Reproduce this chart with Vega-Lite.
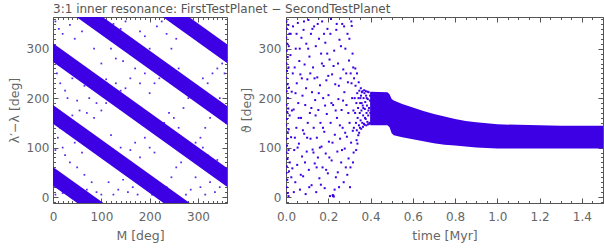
{
  "$schema": "https://vega.github.io/schema/vega-lite/v6.json",
  "autosize": {"type": "none"},
  "padding": {"left": 53, "top": 17, "right": 551, "bottom": 235},
  "title": {"text": "3:1 inner resonance: FirstTestPlanet − SecondTestPlanet", "anchor": "start", "frame": "group", "font": "DejaVu Sans", "fontSize": 12, "fontWeight": "normal", "color": "#555", "offset": 4, "dy": 4},
  "config": {
    "view": {"stroke": "#555", "strokeWidth": 1},
    "axis": {"grid": false, "domain": false, "labelFont": "DejaVu Sans", "labelFontSize": 12, "labelColor": "#666", "titleFont": "DejaVu Sans", "titleFontSize": 12.5, "titleFontWeight": "normal", "titleColor": "#666", "tickColor": "#555", "tickWidth": 1, "labelFlush": false, "labelOverlap": false}
  },
  "spacing": 59,
  "bounds": "flush",
  "datasets": {
    "bandsL": [
      {"band": 0, "M": 0, "lo": 23, "hi": 61}, {"band": 0, "M": 360, "lo": -229, "hi": -191},
      {"band": 1, "M": 0, "lo": 148, "hi": 186}, {"band": 1, "M": 360, "lo": -104, "hi": -66},
      {"band": 2, "M": 0, "lo": 273, "hi": 311}, {"band": 2, "M": 360, "lo": 21, "hi": 59},
      {"band": 3, "M": 0, "lo": 398, "hi": 436}, {"band": 3, "M": 360, "lo": 146, "hi": 184},
      {"band": 4, "M": 0, "lo": 523, "hi": 561}, {"band": 4, "M": 360, "lo": 271, "hi": 309}
    ],
    "ptsL": [
      {"M":5,"dl":355},{"M":12,"dl":340},{"M":20,"dl":330},{"M":35,"dl":348},{"M":45,"dl":320},{"M":60,"dl":335},{"M":70,"dl":352},{"M":8,"dl":250},{"M":15,"dl":230},{"M":25,"dl":215},{"M":40,"dl":240},{"M":55,"dl":260},{"M":65,"dl":225},{"M":80,"dl":245},{"M":95,"dl":210},{"M":110,"dl":238},{"M":30,"dl":200},{"M":50,"dl":195},{"M":75,"dl":200},{"M":90,"dl":190},{"M":100,"dl":270},{"M":120,"dl":300},{"M":130,"dl":320},{"M":140,"dl":340},{"M":150,"dl":355},{"M":160,"dl":290},{"M":170,"dl":310},{"M":180,"dl":335},{"M":190,"dl":325},{"M":200,"dl":300},{"M":215,"dl":345},{"M":225,"dl":355},{"M":235,"dl":330},{"M":110,"dl":330},{"M":95,"dl":345},{"M":85,"dl":300},{"M":125,"dl":350},{"M":10,"dl":120},{"M":20,"dl":100},{"M":30,"dl":130},{"M":45,"dl":110},{"M":60,"dl":90},{"M":75,"dl":130},{"M":90,"dl":115},{"M":100,"dl":100},{"M":110,"dl":80},{"M":120,"dl":125},{"M":130,"dl":70},{"M":140,"dl":100},{"M":150,"dl":60},{"M":160,"dl":95},{"M":170,"dl":110},{"M":180,"dl":80},{"M":190,"dl":120},{"M":200,"dl":100},{"M":210,"dl":90},{"M":220,"dl":130},{"M":230,"dl":150},{"M":240,"dl":170},{"M":250,"dl":160},{"M":260,"dl":140},{"M":270,"dl":180},{"M":280,"dl":200},{"M":290,"dl":220},{"M":300,"dl":210},{"M":310,"dl":240},{"M":320,"dl":230},{"M":330,"dl":250},{"M":340,"dl":260},{"M":350,"dl":270},{"M":355,"dl":250},{"M":345,"dl":200},{"M":335,"dl":180},{"M":325,"dl":160},{"M":315,"dl":140},{"M":305,"dl":120},{"M":295,"dl":110},{"M":285,"dl":100},{"M":275,"dl":90},{"M":265,"dl":70},{"M":255,"dl":60},{"M":245,"dl":40},{"M":235,"dl":20},{"M":225,"dl":10},{"M":215,"dl":30},{"M":205,"dl":5},{"M":195,"dl":15},{"M":185,"dl":25},{"M":175,"dl":5},{"M":165,"dl":20},{"M":155,"dl":10},{"M":145,"dl":35},{"M":135,"dl":15},{"M":125,"dl":5},{"M":115,"dl":30},{"M":300,"dl":90},{"M":310,"dl":100},{"M":320,"dl":85},{"M":330,"dl":70},{"M":340,"dl":75},{"M":350,"dl":60},{"M":355,"dl":40},{"M":345,"dl":20},{"M":335,"dl":10},{"M":325,"dl":30},{"M":315,"dl":5},{"M":305,"dl":20},{"M":295,"dl":40},{"M":285,"dl":15},{"M":275,"dl":5},{"M":5,"dl":95},{"M":15,"dl":140},{"M":25,"dl":85},{"M":35,"dl":70},{"M":50,"dl":60},{"M":65,"dl":45},{"M":80,"dl":30},{"M":90,"dl":10},{"M":100,"dl":5},{"M":70,"dl":15},{"M":55,"dl":5},{"M":40,"dl":0},{"M":5,"dl":5},{"M":10,"dl":20},{"M":20,"dl":8},{"M":255,"dl":320},{"M":265,"dl":345},{"M":275,"dl":360},{"M":285,"dl":355},{"M":245,"dl":300},{"M":260,"dl":260},{"M":250,"dl":230},{"M":240,"dl":250},{"M":230,"dl":260},{"M":220,"dl":240},{"M":210,"dl":230},{"M":200,"dl":210},{"M":190,"dl":250},{"M":180,"dl":230},{"M":170,"dl":260},{"M":160,"dl":240},{"M":150,"dl":220},{"M":140,"dl":215},{"M":130,"dl":230},{"M":120,"dl":210},{"M":110,"dl":190},{"M":100,"dl":175},{"M":85,"dl":160},{"M":70,"dl":170},{"M":55,"dl":175},{"M":40,"dl":165},{"M":25,"dl":160},{"M":10,"dl":160},{"M":130,"dl":280},{"M":145,"dl":275},{"M":200,"dl":275},{"M":210,"dl":260}
    ],
    "envR": [
      {"t":0.398,"lo":150,"hi":212},{"t":0.40,"lo":145,"hi":213},{"t":0.48,"lo":145,"hi":212},{"t":0.49,"lo":141,"hi":208},{"t":0.50,"lo":129,"hi":198},{"t":0.51,"lo":125,"hi":195},{"t":0.55,"lo":121,"hi":188},{"t":0.6,"lo":117,"hi":181},{"t":0.65,"lo":113,"hi":174},{"t":0.7,"lo":109,"hi":168},{"t":0.75,"lo":106,"hi":163},{"t":0.8,"lo":104,"hi":158},{"t":0.85,"lo":102,"hi":154},{"t":0.9,"lo":100,"hi":151},{"t":0.95,"lo":99,"hi":149},{"t":1.0,"lo":98,"hi":147},{"t":1.1,"lo":98,"hi":146},{"t":1.2,"lo":98,"hi":145},{"t":1.3,"lo":98,"hi":144},{"t":1.4,"lo":98,"hi":144},{"t":1.5,"lo":98,"hi":144}
    ],
    "ptsR": [
      {"t":0.002,"th":355},{"t":0.004,"th":340},{"t":0.001,"th":322},{"t":0.006,"th":310},{"t":0.003,"th":296},{"t":0.008,"th":283},{"t":0.002,"th":270},{"t":0.005,"th":255},{"t":0.001,"th":241},{"t":0.007,"th":228},{"t":0.003,"th":214},{"t":0.009,"th":200},{"t":0.002,"th":186},{"t":0.006,"th":172},{"t":0.004,"th":158},{"t":0.001,"th":145},{"t":0.008,"th":131},{"t":0.003,"th":118},{"t":0.005,"th":104},{"t":0.002,"th":90},{"t":0.007,"th":77},{"t":0.004,"th":62},{"t":0.001,"th":48},{"t":0.006,"th":35},{"t":0.003,"th":20},{"t":0.008,"th":8},{"t":0.012,"th":2},{"t":0.011,"th":348},{"t":0.013,"th":305},{"t":0.012,"th":262},{"t":0.014,"th":221},{"t":0.011,"th":179},{"t":0.013,"th":137},{"t":0.012,"th":95},{"t":0.014,"th":52},{"t":0.016,"th":330},{"t":0.017,"th":165},{"t":0.018,"th":70},
      {"t":0.021,"th":287},{"t":0.024,"th":121},{"t":0.027,"th":213},{"t":0.03,"th":58},{"t":0.033,"th":345},{"t":0.036,"th":177},{"t":0.039,"th":95},{"t":0.041,"th":262},{"t":0.044,"th":30},{"t":0.046,"th":300},{"t":0.049,"th":140},{"t":0.051,"th":230},{"t":0.053,"th":65},{"t":0.056,"th":352},{"t":0.058,"th":190},{"t":0.061,"th":108},{"t":0.063,"th":275},{"t":0.066,"th":15},{"t":0.068,"th":248},{"t":0.071,"th":160},{"t":0.073,"th":322},{"t":0.076,"th":82},{"t":0.078,"th":205},{"t":0.081,"th":42},{"t":0.083,"th":338},{"t":0.086,"th":128},{"t":0.088,"th":268},{"t":0.091,"th":186},{"t":0.093,"th":6},{"t":0.096,"th":310},{"t":0.098,"th":92},{"t":0.101,"th":238},{"t":0.103,"th":150},{"t":0.106,"th":358},{"t":0.108,"th":55},{"t":0.111,"th":284},{"t":0.113,"th":170},{"t":0.116,"th":118},{"t":0.118,"th":330},{"t":0.121,"th":24},{"t":0.123,"th":212},{"t":0.126,"th":96},{"t":0.128,"th":262},{"t":0.131,"th":140},{"t":0.133,"th":345},{"t":0.136,"th":68},{"t":0.138,"th":196},{"t":0.141,"th":305},{"t":0.143,"th":10},{"t":0.146,"th":120},{"t":0.148,"th":242},{"t":0.151,"th":80},{"t":0.153,"th":176},{"t":0.156,"th":320},{"t":0.158,"th":38},{"t":0.161,"th":226},{"t":0.163,"th":150},{"t":0.166,"th":290},{"t":0.168,"th":102},{"t":0.171,"th":355},{"t":0.173,"th":60},{"t":0.176,"th":200},{"t":0.178,"th":265},{"t":0.181,"th":132},{"t":0.183,"th":18},{"t":0.186,"th":312},{"t":0.188,"th":88},{"t":0.191,"th":236},{"t":0.193,"th":168},{"t":0.196,"th":340},{"t":0.198,"th":48},{"t":0.201,"th":206},{"t":0.203,"th":112},{"t":0.206,"th":278},{"t":0.208,"th":2},{"t":0.211,"th":150},{"t":0.213,"th":360},{"t":0.216,"th":74},{"t":0.218,"th":248},{"t":0.221,"th":4},{"t":0.223,"th":186},{"t":0.226,"th":1},{"t":0.228,"th":296},{"t":0.231,"th":126},{"t":0.233,"th":228},{"t":0.236,"th":40},{"t":0.238,"th":338},{"t":0.241,"th":160},{"t":0.243,"th":92},{"t":0.246,"th":270},{"t":0.248,"th":198},{"t":0.251,"th":20},{"t":0.253,"th":318},{"t":0.256,"th":118},{"t":0.258,"th":240},{"t":0.261,"th":70},{"t":0.263,"th":176},{"t":0.266,"th":350},{"t":0.268,"th":140},{"t":0.271,"th":258},{"t":0.273,"th":30},{"t":0.276,"th":212},{"t":0.278,"th":98},{"t":0.281,"th":300},{"t":0.283,"th":60},{"t":0.286,"th":186},{"t":0.288,"th":122},{"t":0.291,"th":330},{"t":0.293,"th":232},{"t":0.296,"th":78},{"t":0.298,"th":276},{"t":0.301,"th":150},{"t":0.303,"th":20},{"t":0.306,"th":250},{"t":0.308,"th":110},{"t":0.311,"th":346},{"t":0.313,"th":200},{"t":0.316,"th":134},{"t":0.318,"th":262},{"t":0.32,"th":90},
      {"t":0.022,"th":330},{"t":0.025,"th":40},{"t":0.028,"th":175},{"t":0.032,"th":250},{"t":0.037,"th":10},{"t":0.042,"th":120},{"t":0.045,"th":210},{"t":0.05,"th":330},{"t":0.055,"th":100},{"t":0.06,"th":160},{"t":0.065,"th":300},{"t":0.07,"th":45},{"t":0.075,"th":240},{"t":0.08,"th":135},{"t":0.085,"th":355},{"t":0.09,"th":70},{"t":0.095,"th":220},{"t":0.1,"th":120},{"t":0.105,"th":300},{"t":0.11,"th":20},{"t":0.115,"th":250},{"t":0.12,"th":180},{"t":0.125,"th":340},{"t":0.13,"th":90},{"t":0.135,"th":240},{"t":0.14,"th":165},{"t":0.145,"th":60},{"t":0.15,"th":350},{"t":0.155,"th":210},{"t":0.16,"th":100},{"t":0.165,"th":25},{"t":0.17,"th":270},{"t":0.175,"th":140},{"t":0.18,"th":330},{"t":0.185,"th":185},{"t":0.19,"th":55},{"t":0.195,"th":290},{"t":0.2,"th":245},{"t":0.205,"th":80},{"t":0.21,"th":330},{"t":0.215,"th":190},{"t":0.22,"th":110},{"t":0.225,"th":265},{"t":0.23,"th":15},{"t":0.235,"th":175},{"t":0.24,"th":350},{"t":0.245,"th":50},{"t":0.25,"th":225},{"t":0.255,"th":145},{"t":0.26,"th":305},{"t":0.265,"th":95},{"t":0.27,"th":195},{"t":0.275,"th":345},{"t":0.28,"th":130},{"t":0.285,"th":250},{"t":0.29,"th":45},{"t":0.295,"th":170},{"t":0.3,"th":320},{"t":0.305,"th":60},{"t":0.31,"th":230},{"t":0.315,"th":290},{"t":0.319,"th":175},{"t":0.322,"th":240},{"t":0.321,"th":140},{"t":0.317,"th":70},{"t":0.309,"th":355},{"t":0.222,"th":2},{"t":0.224,"th":3},
      {"t":0.325,"th":200},{"t":0.327,"th":170},{"t":0.329,"th":225},{"t":0.331,"th":150},{"t":0.333,"th":190},{"t":0.335,"th":135},{"t":0.337,"th":210},{"t":0.339,"th":160},{"t":0.341,"th":180},{"t":0.343,"th":200},{"t":0.345,"th":145},{"t":0.347,"th":215},{"t":0.349,"th":170},{"t":0.351,"th":190},{"t":0.353,"th":155},{"t":0.355,"th":205},{"t":0.357,"th":175},{"t":0.359,"th":212},{"t":0.361,"th":150},{"t":0.363,"th":185},{"t":0.365,"th":165},{"t":0.367,"th":200},{"t":0.369,"th":148},{"t":0.371,"th":210},{"t":0.373,"th":178},{"t":0.375,"th":192},{"t":0.377,"th":158},{"t":0.379,"th":205},{"t":0.381,"th":170},{"t":0.383,"th":185},{"t":0.385,"th":152},{"t":0.387,"th":198},{"t":0.389,"th":165},{"t":0.391,"th":212},{"t":0.393,"th":180},{"t":0.395,"th":150},{"t":0.397,"th":195},{"t":0.399,"th":170},{"t":0.334,"th":115},{"t":0.338,"th":108},{"t":0.342,"th":125},{"t":0.346,"th":130},{"t":0.35,"th":140},{"t":0.336,"th":250},{"t":0.344,"th":232},{"t":0.354,"th":220},{"t":0.362,"th":214},{"t":0.37,"th":216},{"t":0.378,"th":214},{"t":0.386,"th":213},{"t":0.332,"th":95},{"t":0.328,"th":260},{"t":0.356,"th":138},{"t":0.364,"th":142},{"t":0.372,"th":146},{"t":0.38,"th":145},{"t":0.388,"th":147},{"t":0.396,"th":148},{"t":0.352,"th":200},{"t":0.358,"th":190},{"t":0.366,"th":180},{"t":0.374,"th":160},{"t":0.382,"th":200},{"t":0.39,"th":175},{"t":0.398,"th":205}
    ]
  },
  "hconcat": [
    {
      "width": 174, "height": 186,
      "layer": [
        {
          "data": {"name": "bandsL"},
          "mark": {"type": "area", "clip": true, "color": "#3d00e5", "opacity": 1},
          "encoding": {
            "x": {"field": "M", "type": "quantitative", "scale": {"domain": [0, 360], "nice": false, "zero": false},
                  "axis": {"orient": "bottom", "values": [0, 100, 200, 300], "ticks": false, "labelPadding": 8, "title": "M [deg]", "titlePadding": 7}},
            "y": {"field": "lo", "type": "quantitative", "scale": {"domain": [-12, 364], "nice": false, "zero": false},
                  "axis": {"orient": "left", "values": [0, 100, 200, 300], "ticks": false, "labelPadding": 4, "title": "λ′−λ [deg]", "titlePadding": 5}},
            "y2": {"field": "hi"},
            "detail": {"field": "band", "type": "nominal"}
          }
        },
        {
          "data": {"name": "ptsL"},
          "mark": {"type": "square", "clip": true, "size": 3, "color": "#3d00e5", "opacity": 0.85},
          "encoding": {
            "x": {"field": "M", "type": "quantitative", "axis": null},
            "y": {"field": "dl", "type": "quantitative", "axis": null}
          }
        },
        {
          "data": {"name": "ptsL"},
          "mark": {"type": "point", "opacity": 0},
          "encoding": {
            "x": {"field": "M", "type": "quantitative", "axis": {"orient": "bottom", "values": [0,10,20,30,40,50,60,70,80,90,100,110,120,130,140,150,160,170,180,190,200,210,220,230,240,250,260,270,280,290,300,310,320,330,340,350,360], "labels": false, "title": null, "tickSize": {"condition": {"test": "datum.value % 100 === 0", "value": -5}, "value": -2.5}}},
            "y": {"field": "dl", "type": "quantitative", "axis": {"orient": "left", "values": [-10,0,10,20,30,40,50,60,70,80,90,100,110,120,130,140,150,160,170,180,190,200,210,220,230,240,250,260,270,280,290,300,310,320,330,340,350,360], "labels": false, "title": null, "tickSize": {"condition": {"test": "datum.value % 100 === 0", "value": -5}, "value": -2.5}}}
          }
        },
        {
          "data": {"name": "ptsL"},
          "mark": {"type": "point", "opacity": 0},
          "encoding": {
            "x": {"field": "M", "type": "quantitative", "axis": {"orient": "top", "values": [0,10,20,30,40,50,60,70,80,90,100,110,120,130,140,150,160,170,180,190,200,210,220,230,240,250,260,270,280,290,300,310,320,330,340,350,360], "labels": false, "title": null, "tickSize": {"condition": {"test": "datum.value % 100 === 0", "value": -5}, "value": -2.5}}},
            "y": {"field": "dl", "type": "quantitative", "axis": {"orient": "right", "values": [-10,0,10,20,30,40,50,60,70,80,90,100,110,120,130,140,150,160,170,180,190,200,210,220,230,240,250,260,270,280,290,300,310,320,330,340,350,360], "labels": false, "title": null, "tickSize": {"condition": {"test": "datum.value % 100 === 0", "value": -5}, "value": -2.5}}}
          }
        }
      ],
      "resolve": {"axis": {"x": "independent", "y": "independent"}}
    },
    {
      "width": 317, "height": 186,
      "layer": [
        {
          "data": {"name": "envR"},
          "mark": {"type": "area", "clip": true, "color": "#3d00e5", "opacity": 1},
          "encoding": {
            "x": {"field": "t", "type": "quantitative", "scale": {"domain": [0, 1.5], "nice": false, "zero": false},
                  "axis": {"orient": "bottom", "values": [0, 0.2, 0.4, 0.6, 0.8, 1.0, 1.2, 1.4], "format": ".1f", "ticks": false, "labelPadding": 8, "title": "time [Myr]", "titlePadding": 7}},
            "y": {"field": "lo", "type": "quantitative", "scale": {"domain": [-12, 364], "nice": false, "zero": false},
                  "axis": {"orient": "left", "values": [0, 100, 200, 300], "ticks": false, "labelPadding": 5, "title": "ϑ [deg]", "titlePadding": 5}},
            "y2": {"field": "hi"}
          }
        },
        {
          "data": {"name": "ptsR"},
          "mark": {"type": "square", "clip": true, "size": 4, "color": "#3d00e5", "opacity": 1},
          "encoding": {
            "x": {"field": "t", "type": "quantitative", "axis": null},
            "y": {"field": "th", "type": "quantitative", "axis": null}
          }
        },
        {
          "data": {"name": "ptsR"},
          "mark": {"type": "point", "opacity": 0},
          "encoding": {
            "x": {"field": "t", "type": "quantitative", "axis": {"orient": "bottom", "values": [0,0.05,0.1,0.15,0.2,0.25,0.3,0.35,0.4,0.45,0.5,0.55,0.6,0.65,0.7,0.75,0.8,0.85,0.9,0.95,1.0,1.05,1.1,1.15,1.2,1.25,1.3,1.35,1.4,1.45,1.5], "labels": false, "title": null, "tickSize": {"condition": {"test": "abs(datum.value*5 - round(datum.value*5)) < 0.001", "value": -5}, "value": -2.5}}},
            "y": {"field": "th", "type": "quantitative", "axis": {"orient": "left", "values": [-10,0,10,20,30,40,50,60,70,80,90,100,110,120,130,140,150,160,170,180,190,200,210,220,230,240,250,260,270,280,290,300,310,320,330,340,350,360], "labels": false, "title": null, "tickSize": {"condition": {"test": "datum.value % 100 === 0", "value": -5}, "value": -2.5}}}
          }
        },
        {
          "data": {"name": "ptsR"},
          "mark": {"type": "point", "opacity": 0},
          "encoding": {
            "x": {"field": "t", "type": "quantitative", "axis": {"orient": "top", "values": [0,0.05,0.1,0.15,0.2,0.25,0.3,0.35,0.4,0.45,0.5,0.55,0.6,0.65,0.7,0.75,0.8,0.85,0.9,0.95,1.0,1.05,1.1,1.15,1.2,1.25,1.3,1.35,1.4,1.45,1.5], "labels": false, "title": null, "tickSize": {"condition": {"test": "abs(datum.value*5 - round(datum.value*5)) < 0.001", "value": -5}, "value": -2.5}}},
            "y": {"field": "th", "type": "quantitative", "axis": {"orient": "right", "values": [-10,0,10,20,30,40,50,60,70,80,90,100,110,120,130,140,150,160,170,180,190,200,210,220,230,240,250,260,270,280,290,300,310,320,330,340,350,360], "labels": false, "title": null, "tickSize": {"condition": {"test": "datum.value % 100 === 0", "value": -5}, "value": -2.5}}}
          }
        }
      ],
      "resolve": {"axis": {"x": "independent", "y": "independent"}}
    }
  ]
}
